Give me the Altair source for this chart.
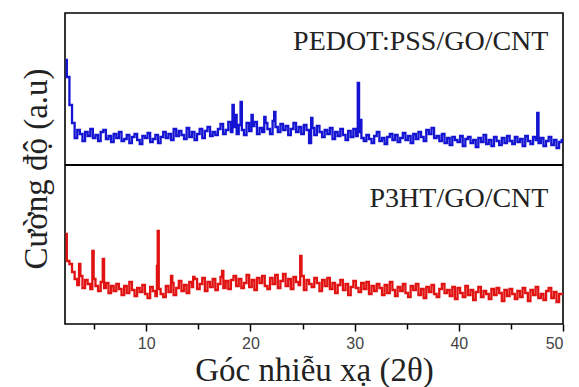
import altair as alt
import pandas as pd

# ---- data (intensity in arbitrary units) ----
x_start = 2.25
x_step = 0.25

# PEDOT:PSS/GO/CNT (upper panel)
blue_values = [
    105, 88, 60,
    42, 27, 35, 31,   24, 33, 29, 36,   27, 30, 24, 33,   35, 26, 29, 23,
    31, 27, 33, 24,   26, 30, 22, 28,   31, 25, 21, 29,   27, 32, 23, 26,
    30, 22, 28, 33,   27, 31, 25, 36,   29, 34, 30, 26,   37, 28, 33, 25,
    31, 36, 27, 34,   38, 29, 33, 30,   36, 41, 31, 35,   43, 33, 38, 31,
    40, 35, 30, 42,   34, 39, 43, 31,   37, 33, 42, 36,   31, 44, 38, 33,
    41, 35, 39, 30,   36, 42, 33, 38,   31, 40, 35, 22,   37, 30, 39, 33,
    28, 35, 31, 37,   26, 33, 29, 36,   30, 25, 34, 28,   36, 29, 33, 27,
    24, 30, 26, 22,   29, 33, 24, 27,   21, 28, 31, 25,   30, 23, 27, 32,
    25, 29, 22, 31,   26, 33, 28, 24,   35, 31, 37, 27,   29, 24, 31, 22,
    27, 20, 28, 25,   23, 29, 19, 26,   28, 22, 25, 18,   27, 23, 30, 21,
    25, 19, 28, 24,   20, 27, 22, 29,   24, 21, 28, 23,   26, 19, 29, 24,
    21, 28, 25, 22,   27, 19, 24, 28,   20, 25, 17, 23,
    25,
]
blue_peak_x = [18.3, 18.6, 19.1, 20.2, 21.4, 22.3, 25.9, 30.35, 30.55, 47.55]
blue_peak_y = [60, 50, 63, 50, 48, 53, 47, 82, 45, 52]

# P3HT/GO/CNT (lower panel)
red_values = [
    90, 63, 60,
    52, 45, 39, 48,   36, 44, 40, 35,   45, 38, 33, 42,   36, 41, 31, 38,
    33, 40, 35, 29,   38, 31, 42, 34,   28, 36, 32, 39,   30, 26, 37, 33,
    28, 35, 30, 27,   38, 32, 41, 29,   36, 43, 33, 39,   31, 42, 37, 45,
    35, 40, 46, 33,   42, 37, 45, 34,   40, 47, 36, 43,   35, 44, 48, 38,
    45, 36, 41, 49,   37, 44, 34, 46,   41, 48, 38, 35,   46, 40, 49, 36,
    43, 50, 38, 45,   35, 47, 42, 39,   48, 34, 44, 40,   37, 46, 41, 33,
    44, 38, 46, 35,   41, 31, 39, 44,   34, 40, 29, 37,   43, 36, 32, 41,
    35, 42, 30, 38,   33, 40, 36, 29,   39, 31, 42, 34,   28, 37, 33, 40,
    31, 27, 38, 34,   40, 29, 35, 26,   37, 32, 39, 30,   27, 35, 40, 31,
    34, 28, 37, 25,   36, 31, 27, 38,   29, 34, 24, 32,   37, 27, 33, 30,
    25, 35, 29, 36,   31, 23, 34, 28,   35, 30, 25, 33,   27, 36, 31, 23,
    34, 29, 37, 26,   30, 24, 33, 36,   26, 32, 22, 30,
    30,
]
red_peak_x = [3.6, 4.9, 5.9, 11.05, 11.15, 12.5, 14.5, 17.3, 24.8]
red_peak_y = [60, 73, 65, 58, 93, 48, 47, 53, 68]

tick_values = [5, 10, 15, 20, 25, 30, 35, 40, 45, 50]
panel_names = ["PEDOT:PSS/GO/CNT", "P3HT/GO/CNT"]
series_colors = ["#1414d2", "#e01212"]

# ---- layout constants ----
PANEL_LOW = 159      # height of the lower panel in y-units
TOTAL = 311


def build(values, px, py):
    xs = [round(x_start + i * x_step, 3) for i in range(len(values))]
    df = pd.DataFrame({"x": xs + list(px), "v": list(values) + list(py)})
    return df.sort_values("x").reset_index(drop=True)


blue_df = build(blue_values, blue_peak_x, blue_peak_y)
red_df = build(red_values, red_peak_x, red_peak_y)

x_scale = alt.Scale(domain=[2.2, 50], nice=False, zero=False)
y_scale = alt.Scale(domain=[0, TOTAL], nice=False, zero=False)

x_axis = alt.Axis(
    values=tick_values,
    labelExpr="datum.value % 10 === 0 ? datum.label : ''",
    title="Góc nhiễu xạ (2θ)",
    titleFont="Liberation Serif",
    titleFontSize=33,
    titleFontWeight="normal",
    titleColor="#222222",
    titlePadding=3,
    labelFont="Liberation Sans",
    labelFontSize=16,
    labelColor="#444444",
    labelPadding=4,
    tickColor="black",
    tickWidth=1.5,
    tickSize={"condition": {"test": "datum.value % 10 === 0", "value": 7}, "value": 5},
    domain=False,
    grid=False,
)
y_axis = alt.Axis(
    title="Cường độ (a.u)",
    titleFont="Liberation Serif",
    titleFontSize=33,
    titleFontWeight="normal",
    titleColor="#222222",
    titlePadding=12,
    labels=False,
    ticks=False,
    domain=False,
    grid=False,
)

top_line = (
    alt.Chart(blue_df)
    .transform_calculate(y=f"datum.v + {PANEL_LOW}")
    .mark_line(color=series_colors[0], strokeWidth=2.3, interpolate="step", clip=True)
    .encode(
        x=alt.X("x:Q", scale=x_scale, axis=x_axis),
        y=alt.Y("y:Q", scale=y_scale, axis=y_axis),
    )
)

bottom_line = (
    alt.Chart(red_df)
    .mark_line(color=series_colors[1], strokeWidth=2.3, interpolate="step", clip=True)
    .encode(
        x=alt.X("x:Q", scale=x_scale, axis=x_axis),
        y=alt.Y("v:Q", scale=y_scale, axis=y_axis),
    )
)

divider = (
    alt.Chart(pd.DataFrame({"y": [PANEL_LOW]}))
    .mark_rule(color="black", strokeWidth=2)
    .encode(y=alt.Y("y:Q", scale=y_scale, axis=y_axis))
)

label_df = pd.DataFrame({
    "name": panel_names,
    "x": [48.6, 48.6],
    "y": [274, 117],
})
labels = (
    alt.Chart(label_df)
    .mark_text(align="right", baseline="alphabetic", font="Liberation Serif",
               fontSize=28, color="#222222")
    .encode(
        x=alt.X("x:Q", scale=x_scale, axis=x_axis),
        y=alt.Y("y:Q", scale=y_scale, axis=y_axis),
        text="name:N",
    )
)

chart = (
    alt.layer(top_line, bottom_line, divider, labels)
    .properties(
        width=498,
        height=311,
        padding={"left": 12, "top": 5, "right": 5, "bottom": 0},
        background="white",
    )
    .configure_view(stroke="black", strokeWidth=1.6)
)

chart.save("out.html", embed_options={"renderer": "svg", "actions": False})
